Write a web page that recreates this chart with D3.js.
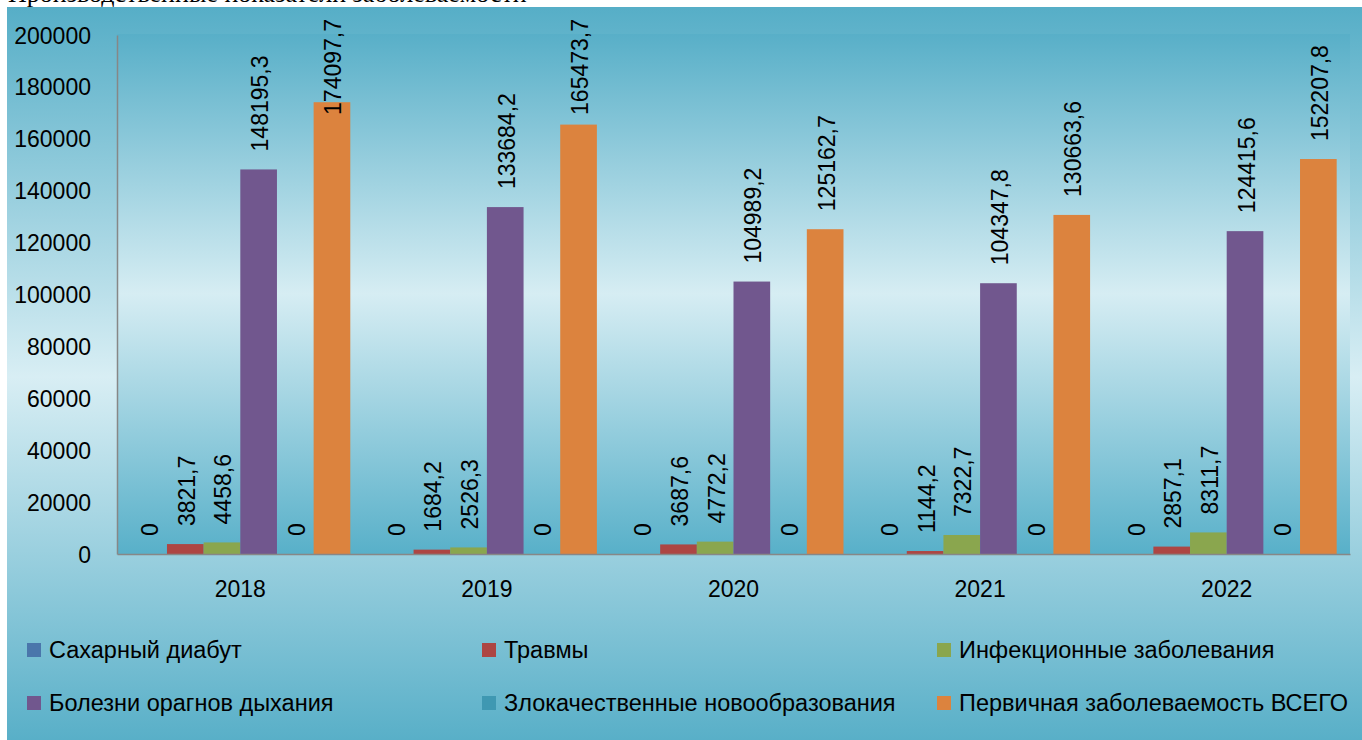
<!DOCTYPE html>
<html>
<head>
<meta charset="utf-8">
<script src="https://cdn.jsdelivr.net/npm/d3@7"></script>
<style>
  html, body { margin: 0; padding: 0; background: #ffffff; }
  svg { display: block; }
  text { font-family: "Liberation Sans", Arial, sans-serif; fill: #000; }
</style>
</head>
<body>
<svg id="chart" width="1362" height="740"></svg>
<script>
// ---- data ----
const years = ["2018", "2019", "2020", "2021", "2022"];
const seriesNames = [
  "Сахарный диабут",
  "Травмы",
  "Инфекционные заболевания",
  "Болезни орагнов дыхания",
  "Злокачественные новообразования",
  "Первичная заболеваемость ВСЕГО"
];
const diabetes   = [0, 0, 0, 0, 0];
const injuries   = [3821.7, 1684.2, 3687.6, 1144.2, 2857.1];
const infections = [4458.6, 2526.3, 4772.2, 7322.7, 8311.7];
const respiratory = [148195.3, 133684.2, 104989.2, 104347.8, 124415.6];
const neoplasms  = [0, 0, 0, 0, 0];
const totalPrimary = [174097.7, 165473.7, 125162.7, 130663.6, 152207.8];
const yTicks = [0, 20000, 40000, 60000, 80000, 100000, 120000, 140000, 160000, 180000, 200000];
const colors = ["#4a76ab", "#ad4643", "#8aa64e", "#71578e", "#3f98b2", "#dc833e"];
const headerText = "Производственные показатели заболеваемости";

const seriesValues = [diabetes, injuries, infections, respiratory, neoplasms, totalPrimary];

// ---- layout ----
const svg = d3.select("#chart");
const W = 1362, H = 740;
const plot = { left: 117, right: 1350, top: 34, bottom: 554 };

const defs = svg.append("defs");
function vGrad(id, stops) {
  const g = defs.append("linearGradient").attr("id", id)
    .attr("x1", 0).attr("y1", 0).attr("x2", 0).attr("y2", 1);
  stops.forEach(s => g.append("stop").attr("offset", s[0]).attr("stop-color", s[1]));
}
vGrad("bgGrad", [[0, "#56aec7"], [0.5, "#d8eef4"], [1, "#56aec7"]]);
vGrad("plotGrad", [[0, "#58afc8"], [0.5, "#d6edf3"], [1, "#58b0c9"]]);

// header line of the page, mostly hidden behind the chart
svg.append("text")
  .attr("x", 8).attr("y", 1.5)
  .style("font-family", "'Liberation Serif', 'Times New Roman', serif")
  .style("font-size", "26px")
  .text(headerText);

// chart area background
svg.append("rect")
  .attr("x", 7).attr("y", 7).attr("width", W - 7).attr("height", 740)
  .attr("fill", "url(#bgGrad)");

// plot area background
svg.append("rect")
  .attr("x", plot.left).attr("y", plot.top)
  .attr("width", plot.right - plot.left).attr("height", plot.bottom - plot.top)
  .attr("fill", "url(#plotGrad)");

// ---- scales ----
const x0 = d3.scaleBand().domain(years).range([plot.left, plot.right]).padding(0);
const bw = x0.bandwidth();
const x1 = d3.scaleBand().domain(seriesNames)
  .range([bw * 0.054, bw * 0.946]).padding(0);
const y = d3.scaleLinear().domain([0, 200000]).range([plot.bottom, plot.top + 1]);

// ---- bars ----
const rows = [];
seriesNames.forEach((s, si) => {
  years.forEach((yr, yi) => rows.push({ s, si, yr, v: seriesValues[si][yi] }));
});

svg.append("g").selectAll("rect").data(rows).enter().append("rect")
  .attr("x", d => x0(d.yr) + x1(d.s))
  .attr("y", d => y(d.v))
  .attr("width", x1.bandwidth())
  .attr("height", d => plot.bottom - y(d.v))
  .attr("fill", d => colors[d.si]);

// ---- axes ----
const yAxis = svg.append("g")
  .attr("transform", `translate(${plot.left},0)`)
  .call(d3.axisLeft(y).tickValues(yTicks).tickSize(0).tickPadding(26).tickFormat(d3.format("d")));
yAxis.select(".domain").attr("stroke", "#878787").attr("stroke-width", 1.5);
yAxis.selectAll("text").style("font-size", "23px").attr("dy", "0.35em")
  .style("font-family", "'Liberation Sans', Arial, sans-serif");

const xAxis = svg.append("g")
  .attr("transform", `translate(0,${plot.bottom})`)
  .call(d3.axisBottom(x0).tickSize(0).tickPadding(0));
xAxis.select(".domain").attr("stroke", "#878787").attr("stroke-width", 1.5);
xAxis.selectAll("text").style("font-size", "23px").attr("y", 35).attr("dy", "0.35em")
  .style("font-family", "'Liberation Sans', Arial, sans-serif");

// ---- value labels ----
const fmt = v => String(v).replace(".", ",");
const labels = svg.append("g").selectAll("text").data(rows).enter().append("text")
  .attr("dy", "0.37em")
  .attr("text-anchor", "start")
  .style("font-size", "23px")
  .text(d => fmt(d.v));
labels.attr("transform", function(d) {
  const cx = x0(d.yr) + x1(d.s) + x1.bandwidth() / 2;
  const len = this.getComputedTextLength();
  // keep label inside the chart area (as the original does for the tallest bar)
  const start = Math.max(y(d.v) - 18, 19 + len);
  return `translate(${cx + 1},${start}) rotate(-90)`;
});

// ---- legend ----
const legendCols = [27, 482, 937];
const legendRows = [650, 703];
const legend = svg.append("g").selectAll("g").data(seriesNames).enter().append("g")
  .attr("transform", (d, i) => `translate(${legendCols[i % 3]},${legendRows[Math.floor(i / 3)]})`);
legend.append("rect").attr("x", 0).attr("y", -7).attr("width", 14).attr("height", 14)
  .attr("fill", (d, i) => colors[i]);
legend.append("text").attr("x", 22).attr("y", 0).attr("dy", "0.35em")
  .style("font-size", "23.5px").text(d => d);
</script>
</body>
</html>
